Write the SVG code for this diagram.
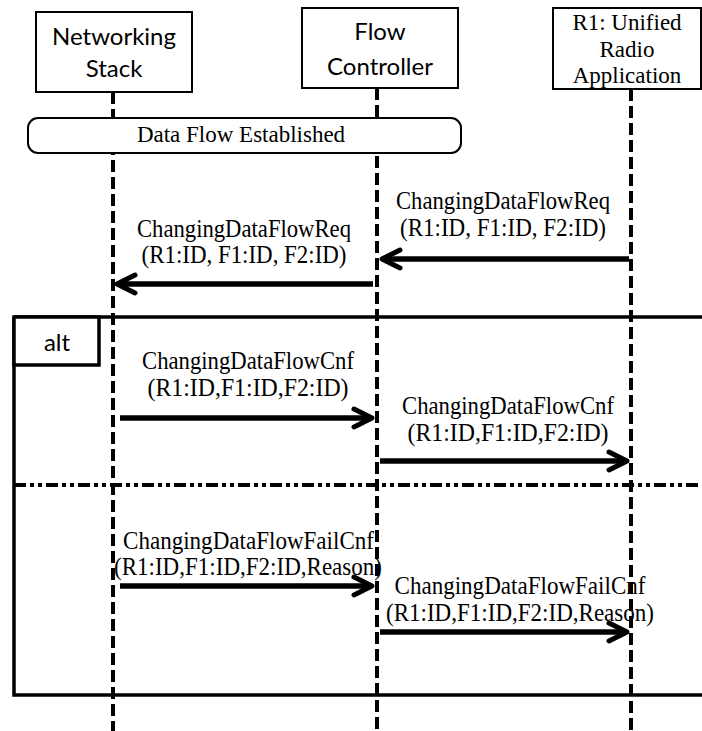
<svg xmlns="http://www.w3.org/2000/svg" width="702" height="731" viewBox="0 0 702 731">
<style>
.box{fill:#fff;stroke:#000;stroke-width:2}
.life{stroke:#000;stroke-width:4;stroke-dasharray:12 5;fill:none}
.frame{stroke:#000;stroke-width:3.5;fill:none}
.sep{stroke:#000;stroke-width:4;stroke-dasharray:12 4 4 4 4 4;fill:none}
.msg{stroke:#000;stroke-width:5.5;fill:none}
.sans{font-family:Lato,"Liberation Sans",sans-serif;font-size:24px;fill:#000;text-anchor:middle}
.serif{font-family:"Liberation Serif","Times New Roman",serif;font-size:23px;fill:#000;text-anchor:middle}
.lbl{font-family:"Liberation Serif","Times New Roman",serif;font-size:25px;fill:#000;text-anchor:middle}
</style>
<defs>
<marker id="arr" markerUnits="userSpaceOnUse" markerWidth="30" markerHeight="30" viewBox="-25 -15 30 30" refX="0" refY="0" orient="auto">
<path d="M-18,-9 L0,0 L-18,9" fill="none" stroke="#000" stroke-width="5" stroke-linecap="round" stroke-linejoin="round"/>
</marker>
</defs>
<rect width="702" height="731" fill="#fff"/>

<g id="alt-frame">
<path class="frame" d="M14,317 H702 M14,317 V695 H702"/>
<path class="sep" d="M14,485 H702"/>
<rect x="14" y="317" width="85" height="48" fill="#fff" stroke="#000" stroke-width="3.5"/>
<text class="sans" x="57" y="351">alt</text>
</g>

<g id="labels">
<text class="lbl" x="503" y="209" textLength="214" lengthAdjust="spacingAndGlyphs">ChangingDataFlowReq</text>
<text class="lbl" x="503" y="236" textLength="206" lengthAdjust="spacingAndGlyphs">(R1:ID, F1:ID, F2:ID)</text>
<text class="lbl" x="244" y="237" textLength="214" lengthAdjust="spacingAndGlyphs">ChangingDataFlowReq</text>
<text class="lbl" x="244" y="263" textLength="205" lengthAdjust="spacingAndGlyphs">(R1:ID, F1:ID, F2:ID)</text>
<text class="lbl" x="248" y="369" textLength="212" lengthAdjust="spacingAndGlyphs">ChangingDataFlowCnf</text>
<text class="lbl" x="248" y="396" textLength="201" lengthAdjust="spacingAndGlyphs">(R1:ID,F1:ID,F2:ID)</text>
<text class="lbl" x="508" y="414" textLength="212" lengthAdjust="spacingAndGlyphs">ChangingDataFlowCnf</text>
<text class="lbl" x="508" y="441" textLength="201" lengthAdjust="spacingAndGlyphs">(R1:ID,F1:ID,F2:ID)</text>
<text class="lbl" x="248.5" y="549" textLength="251" lengthAdjust="spacingAndGlyphs">ChangingDataFlowFailCnf</text>
<text class="lbl" x="248" y="575" textLength="268" lengthAdjust="spacingAndGlyphs">(R1:ID,F1:ID,F2:ID,Reason)</text>
<text class="lbl" x="520" y="594" textLength="251" lengthAdjust="spacingAndGlyphs">ChangingDataFlowFailCnf</text>
<text class="lbl" x="520" y="621" textLength="268" lengthAdjust="spacingAndGlyphs">(R1:ID,F1:ID,F2:ID,Reason)</text>
</g>

<g id="networking-stack">
<line class="life" x1="113" y1="92" x2="113" y2="731"/>
<rect class="box" x="36" y="12" width="156" height="80"/>
<text class="sans" x="114" y="45">Networking</text>
<text class="sans" x="114" y="77">Stack</text>
</g>

<g id="flow-controller">
<line class="life" x1="377" y1="88" x2="377" y2="731"/>
<rect class="box" x="302" y="8" width="156" height="80"/>
<text class="sans" x="380" y="40">Flow</text>
<text class="sans" x="380" y="75">Controller</text>
</g>

<g id="unified-radio-app">
<line class="life" x1="631" y1="89" x2="631" y2="731"/>
<rect class="box" x="553" y="8" width="148" height="81"/>
<text class="serif" x="627" y="30">R1: Unified</text>
<text class="serif" x="627" y="57">Radio</text>
<text class="serif" x="627" y="83">Application</text>
</g>

<g id="data-flow-established">
<rect class="box" x="28" y="118" width="433" height="35" rx="10" ry="10"/>
<text class="serif" x="241" y="142">Data Flow Established</text>
</g>

<g id="connectors">
<line class="msg" x1="629" y1="259" x2="382" y2="259" marker-end="url(#arr)"/>
<line class="msg" x1="373" y1="284" x2="117" y2="284" marker-end="url(#arr)"/>
<line class="msg" x1="120" y1="418" x2="372" y2="418" marker-end="url(#arr)"/>
<line class="msg" x1="380" y1="461" x2="627" y2="461" marker-end="url(#arr)"/>
<line class="msg" x1="120" y1="586" x2="372" y2="586" marker-end="url(#arr)"/>
<line class="msg" x1="380" y1="632" x2="627" y2="632" marker-end="url(#arr)"/>
</g>
</svg>
